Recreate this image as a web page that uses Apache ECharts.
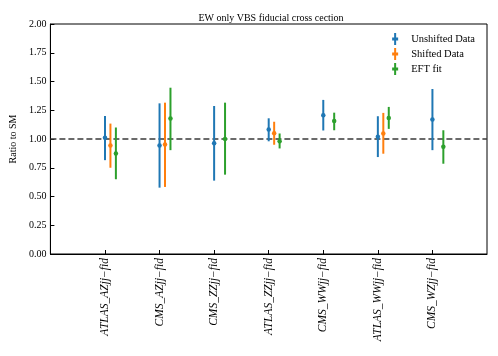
<!DOCTYPE html>
<html>
<head>
<meta charset="utf-8">
<script src="https://cdn.jsdelivr.net/npm/echarts@6/dist/echarts.min.js"></script>
<style>html,body{margin:0;padding:0;background:#fff}#c{width:498px;height:356px}</style>
</head>
<body>
<div id="c"></div>
<script>
var categories = ["ATLAS_AZjj\u2212fid","CMS_AZjj\u2212fid","CMS_ZZjj\u2212fid","ATLAS_ZZjj\u2212fid","CMS_WWjj\u2212fid","ATLAS_WWjj\u2212fid","CMS_WZjj\u2212fid"];
var yTicks = [0,0.25,0.5,0.75,1.0,1.25,1.5,1.75,2.0];
var seriesNames = ["Unshifted Data","Shifted Data","EFT fit"];

var unshiftedVal = [1.01, 0.944, 0.964, 1.082, 1.206, 1.019, 1.169];
var unshiftedLo  = [0.816, 0.577, 0.638, 0.98, 1.074, 0.843, 0.903];
var unshiftedHi  = [1.20, 1.31, 1.287, 1.18, 1.34, 1.198, 1.435];

var shiftedVal = [0.944, 0.952, null, 1.05, null, 1.048, null];
var shiftedLo  = [0.75, 0.583, null, 0.95, null, 0.872, null];
var shiftedHi  = [1.134, 1.316, null, 1.15, null, 1.227, null];

var eftVal = [0.874, 1.178, 1.0, 0.981, 1.157, 1.183, 0.932];
var eftLo  = [0.65, 0.903, 0.69, 0.918, 1.076, 1.088, 0.785];
var eftHi  = [1.10, 1.446, 1.316, 1.048, 1.229, 1.279, 1.076];

var refLine = 1.0;

var colors = ["#1f77b4","#ff7f0e","#2ca02c"];
var offsets = [0, 0.1, 0.2];
var vals = [unshiftedVal, shiftedVal, eftVal];
var los = [unshiftedLo, shiftedLo, eftLo];
var his = [unshiftedHi, shiftedHi, eftHi];

var serif = "Liberation Serif";
var series = [];
for (var s = 0; s < 3; s++) {
  var errData = [], ptData = [];
  for (var i = 0; i < categories.length; i++) {
    if (vals[s][i] == null) continue;
    errData.push([i + offsets[s], los[s][i], his[s][i]]);
    ptData.push([i + offsets[s], vals[s][i]]);
  }
  series.push({
    name: seriesNames[s], type: 'custom', data: errData, z: 3,
    itemStyle: {color: colors[s]},
    renderItem: (function(col){ return function(params, api){
      var p1 = api.coord([api.value(0), api.value(1)]);
      var p2 = api.coord([api.value(0), api.value(2)]);
      return {type:'line', shape:{x1:p1[0],y1:p1[1],x2:p2[0],y2:p2[1]}, style:{stroke:col, lineWidth:2}};
    };})(colors[s]),
    encode: {x: 0, y: [1,2]}
  });
  var sc = {
    name: seriesNames[s], type: 'scatter', data: ptData, symbol: 'circle', symbolSize: 4.5, z: 4,
    itemStyle: {color: colors[s], opacity: 1}
  };
  if (s === 0) {
    sc.markLine = {
      silent: true, symbol: 'none', label: {show:false},
      lineStyle: {color:'#3a3a3a', type:[6,3], width:1.5},
      data: [{yAxis: refLine}], z: 2
    };
  }
  series.push(sc);
}

var chart = echarts.init(document.getElementById('c'), null, {renderer:'canvas'});
chart.setOption({
  animation: false,
  backgroundColor: '#fff',
  title: {
    text: 'EW only VBS fiducial cross cection', left: 266, textAlign: 'center', top: 8,
    textStyle: {fontFamily: serif, fontSize: 10, fontWeight: 'normal', color: '#000'}
  },
  legend: {
    orient: 'vertical', right: 18, top: 28, itemGap: 3, itemWidth: 6, itemHeight: 12,
    data: seriesNames.map(function(n, k){ return {name: n, icon: 'path://M2,0 h2 v4.5 h2 v3 h-2 v4.5 h-2 v-4.5 h-2 v-3 h2 z', itemStyle:{color: colors[k]}}; }),
    textStyle: {fontFamily: serif, fontSize: 10.5, color: '#000', padding: [0,0,0,8]}
  },
  grid: {left: 45, right: 11, top: 24, bottom: 102, show: true, borderColor: '#000', borderWidth: 1, containLabel: false},
  xAxis: {
    type: 'value', min: -1, max: 7,
    splitLine: {show: false},
    axisLine: {show: true, onZero: false, lineStyle: {color: '#000', width: 1}},
    axisTick: {show: true, inside: true, length: 4, customValues: categories.map(function(c,i){return i;}), lineStyle:{color:'#000'}},
    axisLabel: {
      show: true, rotate: 90, margin: 4, customValues: categories.map(function(c,i){return i;}),
      formatter: function(v){ return categories[Math.round(v)] || ''; },
      fontFamily: serif, fontStyle: 'italic', fontSize: 11.5, color: '#000'
    }
  },
  yAxis: {
    type: 'value', min: 0, max: 2, interval: 0.25,
    name: 'Ratio to SM', nameLocation: 'middle', nameGap: 30,
    nameTextStyle: {fontFamily: serif, fontSize: 10, color: '#000'},
    splitLine: {show: false},
    axisLine: {show: true, onZero: false, lineStyle: {color: '#000', width: 1}},
    axisTick: {show: true, inside: true, length: 4, lineStyle:{color:'#000'}},
    axisLabel: {
      margin: 4, fontFamily: serif, fontSize: 10, color: '#000',
      formatter: function(v){ return v.toFixed(2); }
    }
  },
  series: series
});
</script>
</body>
</html>
